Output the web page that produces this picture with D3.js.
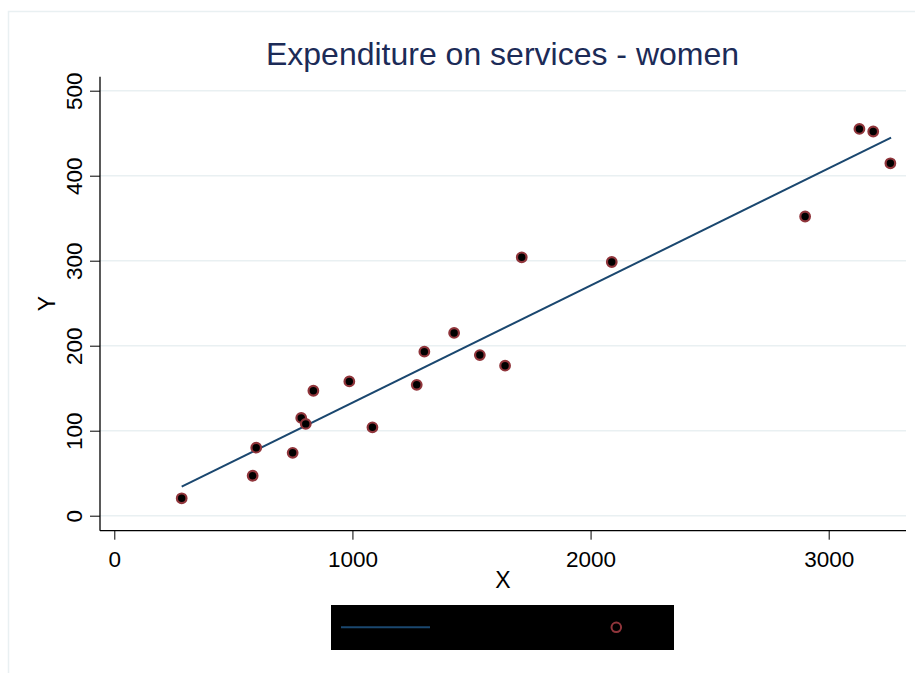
<!DOCTYPE html>
<html>
<head>
<meta charset="utf-8">
<script src="https://cdn.jsdelivr.net/npm/d3@7"></script>
<style>
  html, body { margin: 0; padding: 0; background: #ffffff; }
  svg { display: block; font-family: "Liberation Sans", Arial, Helvetica, sans-serif; }
</style>
</head>
<body>
<svg id="chart" width="915" height="673"></svg>
<script>
// ---- data ----
const titleText = "Expenditure on services - women";
const xLabel = "X";
const yLabel = "Y";
const xTicks = [0, 1000, 2000, 3000];
const yTicks = [0, 100, 200, 300, 400, 500];
const pointsX = [283, 581, 596, 749, 785, 804, 836, 987, 1084, 1270, 1302, 1427, 1535, 1641, 1711, 2089, 2901, 3129, 3187, 3259];
const pointsY = [20.5, 47, 80, 74, 115, 108, 147, 158, 104, 154, 193, 215, 189, 176.5, 304, 298.5, 352, 455, 452, 414.6];
const fitX = [283, 3262];
const fitY = [34.1, 444.7];

// ---- layout ----
const W = 915, H = 673;
const plotLeft = 100, plotRight = 906, plotTop = 76.7, plotBottom = 530.7;
const navy = "#1a476f";
const cranberry = "#90353b";
const gridColor = "#e9f0f2";

const svg = d3.select("#chart");

// background border
svg.append("rect").attr("x", 8.5).attr("y", 11.5).attr("width", 1000).attr("height", 1000)
  .attr("fill", "#ffffff").attr("stroke", gridColor).attr("stroke-width", 1.5);

const x = d3.scaleLinear().domain([0, 3000]).range([114.3, 828.7]);
const y = d3.scaleLinear().domain([0, 500]).range([515.7, 90.7]);

// gridlines
svg.append("g").selectAll("line").data(yTicks).join("line")
  .attr("x1", plotLeft).attr("x2", plotRight)
  .attr("y1", d => y(d)).attr("y2", d => y(d))
  .attr("stroke", gridColor).attr("stroke-width", 1.5);

// x axis
const gx = svg.append("g").attr("transform", `translate(0,${plotBottom})`)
  .call(d3.axisBottom(x).tickValues(xTicks).tickSize(9).tickSizeOuter(0).tickFormat(d3.format("d")));
gx.select(".domain").remove();
gx.selectAll(".tick line").attr("stroke", "#000").attr("stroke-width", 1);
gx.selectAll(".tick text").attr("font-size", 22.5).attr("fill", "#000")
  .attr("font-family", "'Liberation Sans', Arial, sans-serif").attr("dy", null).attr("y", 36);
svg.append("line").attr("x1", plotLeft).attr("x2", plotRight)
  .attr("y1", plotBottom).attr("y2", plotBottom).attr("stroke", "#000").attr("stroke-width", 1.3);

// y axis
const gy = svg.append("g").attr("transform", `translate(${plotLeft},0)`)
  .call(d3.axisLeft(y).tickValues(yTicks).tickSize(10).tickSizeOuter(0).tickFormat(d3.format("d")));
gy.select(".domain").remove();
gy.selectAll(".tick line").attr("stroke", "#000").attr("stroke-width", 1);
gy.selectAll(".tick text").attr("font-size", 22.5).attr("fill", "#000")
  .attr("font-family", "'Liberation Sans', Arial, sans-serif")
  .attr("x", null).attr("dy", null).attr("text-anchor", "middle")
  .attr("transform", "translate(-18.3,0) rotate(-90)");
svg.append("line").attr("x1", plotLeft).attr("x2", plotLeft)
  .attr("y1", plotTop).attr("y2", plotBottom).attr("stroke", "#000").attr("stroke-width", 1.3);

// axis titles
svg.append("text").attr("x", (plotLeft + plotRight) / 2).attr("y", 588.3)
  .attr("text-anchor", "middle").attr("font-size", 23).attr("fill", "#000").text(xLabel);
svg.append("text").attr("transform", `translate(55,${(plotTop + plotBottom) / 2}) rotate(-90)`)
  .attr("text-anchor", "middle").attr("font-size", 23).attr("fill", "#000").text(yLabel);

// title
svg.append("text").attr("x", 502.5).attr("y", 65).attr("text-anchor", "middle")
  .attr("font-size", 32).attr("fill", "#1c2b57").text(titleText);

// fit line
const fitData = fitX.map((v, i) => [v, fitY[i]]);
svg.append("path").datum(fitData)
  .attr("d", d3.line().x(d => x(d[0])).y(d => y(d[1])))
  .attr("fill", "none").attr("stroke", navy).attr("stroke-width", 2);

// points
const pts = pointsX.map((v, i) => [v, pointsY[i]]);
svg.append("g").selectAll("circle").data(pts).join("circle")
  .attr("cx", d => x(d[0])).attr("cy", d => y(d[1])).attr("r", 4.8)
  .attr("fill", "#000").attr("stroke", cranberry).attr("stroke-width", 2.2);

// legend
svg.append("rect").attr("x", 331).attr("y", 605).attr("width", 343).attr("height", 45).attr("fill", "#000");
svg.append("line").attr("x1", 341).attr("x2", 430).attr("y1", 627.3).attr("y2", 627.3)
  .attr("stroke", navy).attr("stroke-width", 2);
svg.append("circle").attr("cx", 616.3).attr("cy", 627.3).attr("r", 4.8)
  .attr("fill", "#000").attr("stroke", cranberry).attr("stroke-width", 2);
</script>
</body>
</html>
